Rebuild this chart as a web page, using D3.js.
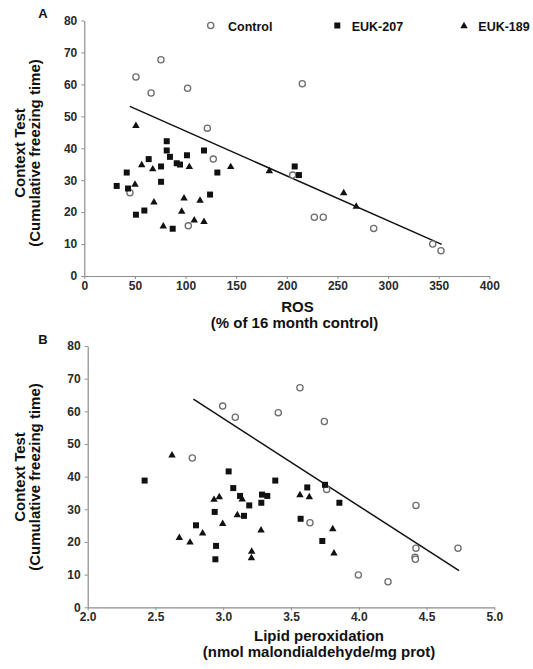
<!DOCTYPE html>
<html>
<head>
<meta charset="utf-8">
<script src="https://cdn.jsdelivr.net/npm/d3@7"></script>
<style>
  html, body { margin: 0; padding: 0; background: #ffffff; }
  svg { display: block; }
  text { font-family: "Liberation Sans", Arial, Helvetica, sans-serif; font-weight: bold; }
</style>
</head>
<body>
<svg id="chart" width="533" height="669"></svg>
<script>
// ---------- DATA ----------
const seriesNames = ["Control", "EUK-207", "EUK-189"];
const yTicks = [0, 10, 20, 30, 40, 50, 60, 70, 80];
const xTicksA = [0, 50, 100, 150, 200, 250, 300, 350, 400];
const xTicksB = [2.0, 2.5, 3.0, 3.5, 4.0, 4.5, 5.0];

// Panel A: ROS (% of 16 month control) vs cumulative freezing time
const controlA = [[51,62.3],[66,57.3],[75.7,67.7],[102,58.8],[121.5,46.3],[127.4,36.6],[45.1,26.1],[102.7,15.7],
  [205.8,31.6],[215.3,60.2],[227.2,18.4],[236,18.4],[285.8,14.9],[344.1,10],[352.3,7.9]];
const euk207A = [[32,28.2],[41.9,32.4],[43.2,27.4],[63.6,36.6],[75.8,34.3],[75.8,29.5],[81.4,42.2],[81.4,39.3],
  [84.6,37.3],[91.3,35.3],[94.5,34.9],[101.4,37.8],[118.2,39.3],[131.4,32.4],[124.2,25.5],[51,19.2],[59.3,20.5],
  [87.3,14.8],[207.8,34.3],[212,31.6]];
const euk189A = [[51,47.2],[56.7,34.9],[67.6,33.6],[50.1,28.8],[68.8,23.2],[78,15.7],[98.5,24.5],[96.2,20.3],
  [108.6,17.6],[114.3,23.8],[118.2,17.1],[103.7,34.3],[144.6,34.3],[182.7,33],[256.2,26.1],[268.6,21.9]];
const fitA = [[45,53.1],[353,9.9]];

// Panel B: Lipid peroxidation vs cumulative freezing time
const controlB = [[2.996,61.6],[3.089,58.2],[2.772,45.7],[3.566,67.2],[3.406,59.6],[3.746,56.9],[3.763,36.1],
  [3.64,25.9],[4.422,31.2],[4.422,18.1],[4.415,15.3],[4.418,14.7],[4.732,18.1],[3.997,9.9],[4.216,7.8]];
const euk207B = [[2.42,38.8],[3.04,41.6],[3.074,36.5],[3.384,38.8],[3.62,36.7],[3.751,37.5],[2.799,25.1],
  [2.937,29.2],[2.947,18.8],[2.942,14.7],[3.124,34.1],[3.153,28],[3.192,31.2],[3.281,32],[3.286,34.5],
  [3.325,34.1],[3.571,27.1],[3.857,32],[3.731,20.3]];
const euk189B = [[2.622,46.7],[2.676,21.4],[2.755,20],[2.848,22.8],[2.932,33.1],[2.971,33.9],[2.996,25.7],
  [3.104,28.4],[3.14,33.2],[3.21,17.2],[3.208,15.2],[3.279,23.7],[3.566,34.5],[3.635,33.9],[3.808,24.1],[3.817,16.7]];
const fitB = [[2.78,63.7],[4.74,11.2]];

// ---------- DRAWING ----------
const svg = d3.select("#chart");
const axisColor = "#8c8c8c";
const tickTextColor = "#2a2a2a";

function drawMarkers(g, data, kind, x, y) {
  if (kind === "circle") {
    g.selectAll(null).data(data).join("circle")
      .attr("cx", d => x(d[0])).attr("cy", d => y(d[1])).attr("r", 3.1)
      .attr("fill", "#fff").attr("stroke", "#6e6e6e").attr("stroke-width", 1.3);
  } else if (kind === "square") {
    g.selectAll(null).data(data).join("path")
      .attr("transform", d => `translate(${x(d[0])},${y(d[1])})`)
      .attr("d", d3.symbol().type(d3.symbolSquare).size(36))
      .attr("fill", "#111");
  } else {
    g.selectAll(null).data(data).join("path")
      .attr("transform", d => `translate(${x(d[0])},${y(d[1]) + 0.5})`)
      .attr("d", d3.symbol().type(d3.symbolTriangle).size(24))
      .attr("fill", "#111");
  }
}

function panel(opt) {
  const x = d3.scaleLinear().domain(opt.xDomain).range(opt.xRange);
  const y = d3.scaleLinear().domain([0, 80]).range(opt.yRange);
  const g = svg.append("g");

  const xAxis = d3.axisBottom(x).tickValues(opt.xTicks).tickSize(3).tickPadding(2.5)
    .tickFormat(opt.xFormat).tickSizeOuter(0);
  const yAxis = d3.axisLeft(y).tickValues(yTicks).tickSize(3).tickPadding(4).tickSizeOuter(0);

  const gx = g.append("g").attr("transform", `translate(0,${opt.yRange[0]})`).call(xAxis);
  const gy = g.append("g").attr("transform", `translate(${opt.xRange[0]},0)`).call(yAxis);
  [gx, gy].forEach(a => {
    a.selectAll("path.domain").attr("stroke", axisColor).attr("stroke-width", 1.2);
    a.selectAll(".tick line").attr("stroke", axisColor).attr("stroke-width", 1);
    a.selectAll(".tick text").attr("fill", tickTextColor).style("font-size", "12px")
      .style("font-family", '"Liberation Sans", Arial, sans-serif').style("font-weight", "bold");
  });

  // regression line
  g.append("path").datum(opt.fit)
    .attr("d", d3.line().x(d => x(d[0])).y(d => y(d[1])))
    .attr("stroke", "#111").attr("stroke-width", 1.5).attr("fill", "none");

  drawMarkers(g, opt.control, "circle", x, y);
  drawMarkers(g, opt.e207, "square", x, y);
  drawMarkers(g, opt.e189, "triangle", x, y);

  // panel letter
  g.append("text").attr("x", opt.letterPos[0]).attr("y", opt.letterPos[1])
    .attr("text-anchor", "middle").style("font-size", "13px").attr("fill", "#111").text(opt.letter);

  // y-axis title
  const yt = g.append("g").attr("transform", `translate(0,${opt.yTitleCenter})`);
  yt.append("text").attr("transform", "translate(25,0) rotate(-90)")
    .attr("text-anchor", "middle").style("font-size", "15px").attr("fill", "#111").text("Context Test");
  yt.append("text").attr("transform", "translate(39.5,0) rotate(-90)")
    .attr("text-anchor", "middle").style("font-size", "15px").attr("fill", "#111").text("(Cumulative freezing time)");

  // x-axis title
  g.append("text").attr("x", opt.xTitleCenter[0]).attr("y", opt.xTitleCenter[1])
    .attr("text-anchor", "middle").style("font-size", "15px").attr("fill", "#111").text(opt.xTitle1);
  g.append("text").attr("x", opt.xTitleCenter2[0]).attr("y", opt.xTitleCenter2[1])
    .attr("text-anchor", "middle").style("font-size", "15px").attr("fill", "#111").text(opt.xTitle2);
}

panel({
  xDomain: [0, 400], xRange: [84.3, 489.3], yRange: [276, 20.5],
  xTicks: xTicksA, xFormat: d3.format("d"),
  control: controlA, e207: euk207A, e189: euk189A, fit: fitA,
  letter: "A", letterPos: [43, 17.5], yTitleCenter: 153,
  xTitle1: "ROS", xTitleCenter: [297.5, 312],
  xTitle2: "(% of 16 month control)", xTitleCenter2: [294.5, 328]
});

panel({
  xDomain: [2, 5], xRange: [87.7, 494.3], yRange: [607.3, 346],
  xTicks: xTicksB, xFormat: d3.format(".1f"),
  control: controlB, e207: euk207B, e189: euk189B, fit: fitB,
  letter: "B", letterPos: [43, 344], yTitleCenter: 477,
  xTitle1: "Lipid peroxidation", xTitleCenter: [319, 641],
  xTitle2: "(nmol malondialdehyde/mg prot)", xTitleCenter2: [319, 657]
});

// legend (top of panel A)
const legend = svg.append("g");
const legendItems = [
  { name: seriesNames[0], kind: "circle", mx: 210.7, tx: 228 },
  { name: seriesNames[1], kind: "square", mx: 337.3, tx: 351.7 },
  { name: seriesNames[2], kind: "triangle", mx: 464, tx: 478.3 }
];
legendItems.forEach(it => {
  const id = d3.scaleLinear().domain([0, 1]).range([0, 1]);
  drawMarkers(legend, [[it.mx, 25.5]], it.kind, id, id);
  legend.append("text").attr("x", it.tx).attr("y", 30.5)
    .style("font-size", "12.5px").attr("fill", "#111").text(it.name);
});
</script>
</body>
</html>
